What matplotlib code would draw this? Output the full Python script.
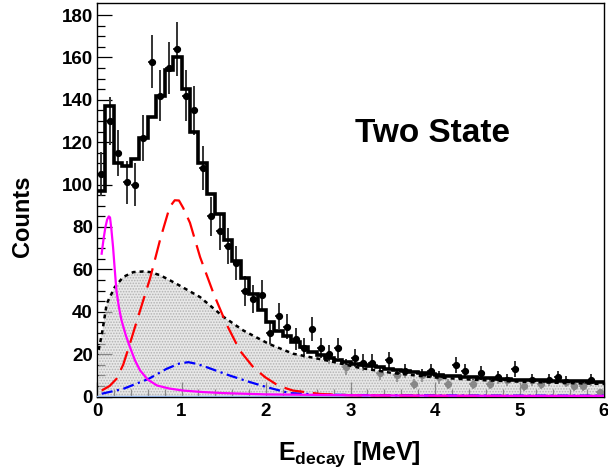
import numpy as np
import matplotlib
matplotlib.use("Agg")
import matplotlib.pyplot as plt

plt.rcParams["font.family"] = ["Liberation Sans", "DejaVu Sans"]
plt.rcParams["font.weight"] = "bold"
plt.rcParams["mathtext.fontset"] = "custom"
plt.rcParams["mathtext.rm"] = "Liberation Sans:bold"
plt.rcParams["mathtext.bf"] = "Liberation Sans:bold"
plt.rcParams["hatch.linewidth"] = 0.8

# ---- binning: 0.1 MeV bins from 0 to 6 MeV ----
bin_edges = np.round(np.arange(0, 6.0001, 0.1), 2)
bin_centers = 0.5 * (bin_edges[:-1] + bin_edges[1:])

# measured decay-energy spectrum (counts per bin)
data_counts = [105, 130, 115, 101, 100, 122, 158, 142, 155, 164,
               142, 135, 108, 85, 78, 71, 63, 50, 46, 48,
               30, 38, 33, 27, 23, 32, 23, 20, 23, 14,
               18, 16, 16, 11, 17, 10, 12, 6, 10, 12,
               9, 6, 15, 12, 6, 11, 6, 9, 8, 13,
               5, 8, 6, 8, 9, 7, 5, 5, 8, 2]

# total fit, binned
fit_total = [97, 137, 110, 109, 112, 122, 132, 142, 154, 160,
             145, 125, 110, 95.5, 86, 74, 64, 56, 48.5, 41,
             35, 31, 28.5, 25.7, 23.3, 21, 19.4, 18.3, 17, 16.2,
             15.5, 14.9, 14.3, 13.7, 13.1, 12.6, 12.1, 11.6, 11.1, 10.6,
             10.2, 9.9, 9.6, 9.3, 9.0, 8.8, 8.6, 8.4, 8.2, 8.0,
             7.9, 7.7, 7.6, 7.5, 7.4, 7.3, 7.2, 7.1, 7.0, 6.9]

# non-resonant background component
bg_x = [0.02, 0.06, 0.115, 0.21, 0.31, 0.43, 0.55, 0.63, 0.75, 0.94,
        1.22, 1.5, 1.73, 2.03, 2.32, 2.72, 3.11, 3.51, 4.0, 4.5, 5.0, 5.5, 6.0]
bg_y = [22, 30, 43.8, 51.6, 56.4, 58.7, 59.0, 58.7, 57.2, 53.2,
        46.9, 37.5, 31.2, 24.9, 20.2, 17.0, 13.5, 11.0, 9.0, 7.8, 7.0, 6.4, 5.9]

# low-lying state
low_x = [0.055, 0.08, 0.1, 0.12, 0.14, 0.154, 0.17, 0.19, 0.21, 0.23, 0.26, 0.29,
         0.34, 0.39, 0.45, 0.51, 0.6, 0.71, 0.85, 1.02, 1.25, 1.5, 2.0, 3.0, 4.0, 5.0, 6.0]
low_y = [67.4, 75, 80, 83.5, 85, 84.5, 79, 70.5, 60, 50, 42, 36,
         29, 23.3, 17, 12.3, 8, 5.2, 3.8, 2.8, 2.1, 1.6, 1.0, 0.6, 0.4, 0.3, 0.3]

# main resonance
res_x = [0.055, 0.15, 0.23, 0.31, 0.39, 0.51, 0.63, 0.75, 0.86, 0.92, 0.97,
         1.02, 1.1, 1.22, 1.38, 1.53, 1.69, 1.85, 1.99, 2.15, 2.32, 2.64, 3.0, 4.0, 5.0, 6.0]
res_y = [2.8, 5, 8.3, 15, 25, 40.6, 56, 74.5, 89.4, 92.6, 92.5,
         89, 82, 65.8, 48.5, 34.3, 21.7, 13.8, 9.1, 5.0, 2.8, 1.2, 0.6, 0.3, 0.2, 0.2]

# second state
sec_x = [0.055, 0.31, 0.61, 0.82, 0.97, 1.08, 1.18, 1.3, 1.57, 1.81, 2.01, 2.28,
         2.6, 3.0, 4.0, 5.0, 6.0]
sec_y = [1.3, 3.6, 8.3, 13.0, 15.5, 16.2, 15.4, 13.8, 9.9, 6.8, 4.4, 1.6,
         1.0, 0.7, 0.5, 0.4, 0.4]

x_ticks = [0, 1, 2, 3, 4, 5, 6]
y_ticks = [0, 20, 40, 60, 80, 100, 120, 140, 160, 180]

fig = plt.figure(figsize=(6.08, 4.69), dpi=100)
ax = fig.add_axes([97 / 608, 72.5 / 469, 507 / 608, 393.5 / 469])

# data with Poisson errors
counts = np.array(data_counts, dtype=float)
ax.errorbar(bin_centers, counts, yerr=np.sqrt(counts), xerr=0.045,
            fmt="o", color="black", ecolor="#333333", elinewidth=1.4,
            markersize=4.2, capsize=0, zorder=2)

# shaded background (drawn over the points like a fill pattern)
ax.fill_between(bg_x, 0, bg_y, facecolor=(0.86, 0.86, 0.86, 0.62),
                edgecolor=(0.55, 0.55, 0.55, 0.55), hatch="......",
                linewidth=0, zorder=3)
ax.plot(bg_x, bg_y, color="black", lw=1.8, ls=(0, (1.6, 1.6)), zorder=4)

# flat component along zero
ax.plot([0, 6], [0, 0], color="#8cacde", lw=2.5, zorder=4)

ax.plot(sec_x, sec_y, color="#0000ff", lw=1.6, ls=(0, (5, 2, 1, 2)), zorder=5)
ax.plot(res_x, res_y, color="#ff0000", lw=1.6, ls=(0, (9, 4)), zorder=5)
ax.plot(low_x, low_y, color="#ff00ff", lw=1.6, zorder=5)

# total fit histogram
ax.stairs(fit_total, bin_edges, color="black", lw=2.6, baseline=None, zorder=6)

ax.set_xlim(0, 6)
ax.set_ylim(0, 185.7)
ax.set_xticks(x_ticks)
ax.set_yticks(y_ticks)
ax.set_xticks(np.arange(0, 6.01, 0.2), minor=True)
ax.set_yticks(np.arange(0, 185, 5), minor=True)
ax.tick_params(which="both", direction="in", top=False, right=False,
               labelsize=13.5, width=0.9)
ax.tick_params(which="major", length=11)
ax.tick_params(which="minor", length=5.5)
ax.tick_params(axis="y", pad=3)
ax.tick_params(axis="x", pad=5)
for lab in ax.get_xticklabels() + ax.get_yticklabels():
    lab.set_fontweight("bold")
for s in ax.spines.values():
    s.set_linewidth(1.0)

ax.text(0.661, 0.647, "Two State", transform=ax.transAxes, ha="center",
        va="baseline", fontsize=24, fontweight="bold")

fig.text(349 / 608, 9 / 469, r"E$_{\rm decay}$ [MeV]", ha="center",
         va="baseline", fontsize=18, fontweight="bold")
fig.text(22.5 / 608, 0.538, "Counts", rotation=90, ha="center", va="center",
         fontsize=17, fontweight="bold")

fig.savefig("out.png", dpi=100)
